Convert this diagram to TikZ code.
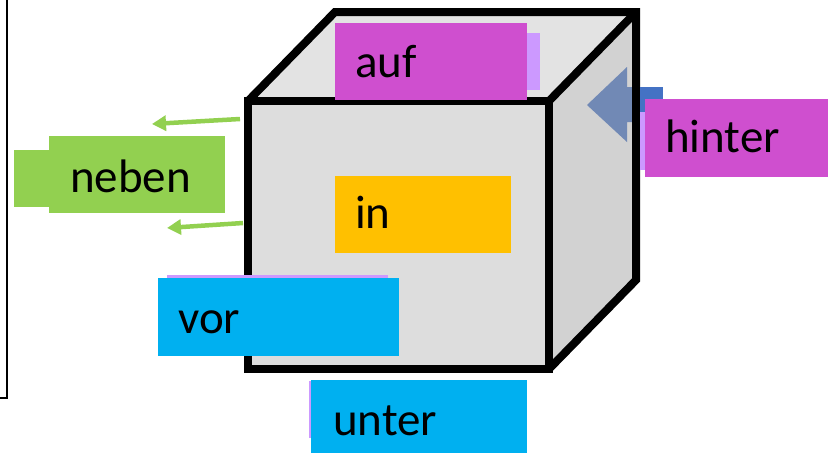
\documentclass[tikz,border=0pt]{standalone}
\usepackage{fontspec}
\setmainfont{Carlito}
\usetikzlibrary{arrows.meta}
\definecolor{mag}{HTML}{CF4FCF}
\definecolor{lav}{HTML}{CC99FF}
\definecolor{grn}{HTML}{92D050}
\definecolor{org}{HTML}{FFC000}
\definecolor{cya}{HTML}{00B0F0}
\definecolor{bluA}{HTML}{7189B5}
\definecolor{bluB}{HTML}{4472C4}
\definecolor{frontg}{HTML}{DDDDDD}
\definecolor{topg}{HTML}{E3E3E3}
\definecolor{sideg}{HTML}{D2D2D2}
\tikzset{
  lbl/.style={anchor=base west, inner sep=0pt, font=\fontsize{47}{56}\selectfont, text=black},
  edge/.style={line width=8pt, line join=miter, draw=black},
  garrow/.style={draw=grn, line width=4.5pt, -{Triangle[width=15pt,length=14pt]}}
}
\begin{document}
\begin{tikzpicture}[x=1pt,y=-1pt]
\useasboundingbox (0,0) rectangle (828,453);
% left frame
\draw[line width=1.3pt] (7,-2) -- (7,398) -- (-2,398);
% cube faces
\fill[topg] (248,101) -- (335,12) -- (636,12) -- (549,101) -- cycle;
\fill[sideg] (549,101) -- (636,12) -- (636,280) -- (549,369) -- cycle;
\fill[frontg] (248,101) rectangle (549,369);
% blue arrow on the side face
\fill[bluA] (587,105) -- (627,67) -- (627,87) -- (640,87) -- (640,122) -- (627,122) -- (627,142) -- cycle;
% cube edges
\draw[edge] (248,101) rectangle (549,369);
\draw[edge] (248,101) -- (335,12) -- (636,12) -- (636,280) -- (549,369);
\draw[edge] (636,12) -- (549,101);
% arrow shaft right of edge
\fill[bluB] (640,87) rectangle (663,115);
\fill[lav] (640,112) rectangle (646,170);
% auf
\fill[lav] (520,33) rectangle (540,90);
\fill[mag] (335,23) rectangle (527,100);
\node[lbl] (auf) at (355,77) {auf};
% hinter
\fill[mag] (645,99) rectangle (828,177);
\node[lbl] (hinter) at (665,152) {hinter};
% neben
\fill[grn] (14,150) rectangle (49,207);
\fill[grn] (49,136) rectangle (225,213);
\node[lbl] (neben) at (70,192) {neben};
\coordinate (a1s) at (240,119);
\coordinate (a1e) at (152,124);
\coordinate (a2s) at (243,223);
\coordinate (a2e) at (167,228);
\draw[garrow] (a1s) -- (a1e);
\draw[garrow] (a2s) -- (a2e);
% in
\fill[org] (335,176) rectangle (511,253);
\node[lbl] (in) at (355,228) {in};
% vor
\fill[lav] (167,275) rectangle (388,279);
\fill[cya] (158,278) rectangle (399,356);
\node[lbl] (vor) at (178,333) {vor};
% unter
\fill[lav] (309,381) rectangle (313,438);
\fill[cya] (311,380) rectangle (527,453);
\node[lbl] (unter) at (333,435) {unter};
\end{tikzpicture}
\end{document}
